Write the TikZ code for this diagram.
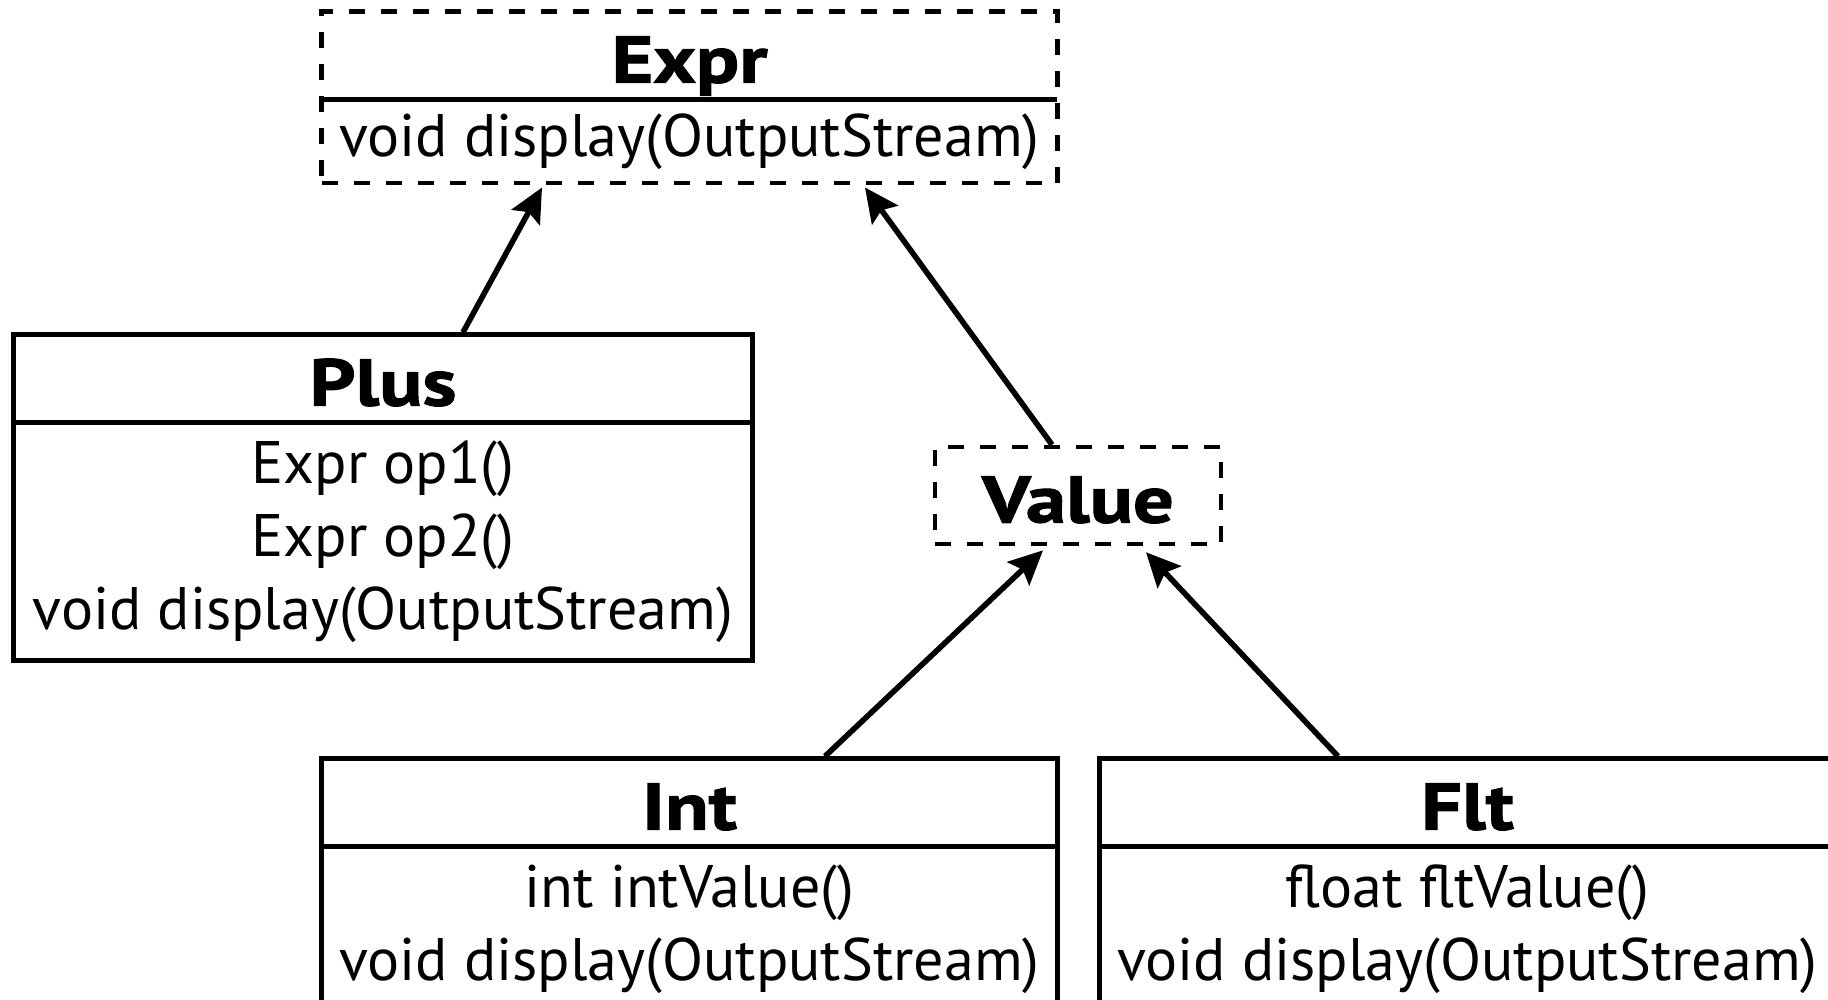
\documentclass[tikz,border=0pt]{standalone}
\usepackage{fontspec}
\setmainfont{PT Sans}
\newfontfamily\headfont{PT Sans}[FakeStretch=1.22,FakeBold=1.6]
\usetikzlibrary{arrows.meta,backgrounds,fit,positioning}
\tikzset{
  head/.style={inner sep=0pt, minimum height=43.5pt,
    text height=27pt, text depth=0pt,
    font=\fontsize{33}{36.5}\headfont\bfseries},
  body/.style={inner sep=0pt, align=center,
    font=\fontsize{30}{36.5}\selectfont},
  classbox/.style={draw, line width=2.3pt, inner sep=0pt},
  abstractbox/.style={classbox, dash pattern=on 8pt off 8pt},
  divider/.style={line width=2.3pt},
  inherit/.style={-{Stealth[length=17pt,width=16pt,inset=3pt]},
    line width=2.8pt}
}

\begin{document}
\begin{tikzpicture}[x=0.5pt,y=-0.5pt]
\useasboundingbox (0,0) rectangle (1828,1000);
\clip (0,0) rectangle (1828,1000);

% abstract base class
\node[head, minimum width=367.5pt] (exprHead) at (689.5,55.5) {Expr};
\node[body, minimum width=367.5pt, minimum height=41.5pt, below=0pt of exprHead]
  (exprBody) {void display(OutputStream)};
\node[abstractbox, fit=(exprHead)(exprBody)] (expr) {};
\draw[divider] (exprHead.south west) -- (exprHead.south east);

% binary node
\node[head, minimum width=369pt] (plusHead) at (383,378.5) {Plus};
\node[body, minimum width=369pt, minimum height=118.5pt, below=0pt of plusHead]
  (plusBody) {Expr op1()\\Expr op2()\\void display(OutputStream)};
\node[classbox, fit=(plusHead)(plusBody)] (plus) {};
\draw[divider] (plusHead.south west) -- (plusHead.south east);

% abstract leaf
\node[abstractbox, head, minimum width=143pt, minimum height=48.5pt] (value)
  at (1078,495.5) {Value};

% concrete leaves (cut off by the page edge)
\node[head, minimum width=367.5pt] (intHead) at (689.5,802.5) {Int};
\node[body, minimum width=367.5pt, minimum height=82pt, below=0pt of intHead]
  (intBody) {int intValue()\\void display(OutputStream)};
\node[classbox, fit=(intHead)(intBody)] (int) {};
\draw[divider] (intHead.south west) -- (intHead.south east);

\node[head, minimum width=367.5pt] (fltHead) at (1467.5,802.5) {Flt};
\node[body, minimum width=367.5pt, minimum height=82pt, below=0pt of fltHead]
  (fltBody) {float fltValue()\\void display(OutputStream)};
\node[classbox, fit=(fltHead)(fltBody)] (flt) {};
\draw[divider] (fltHead.south west) -- (fltHead.south east);

% inheritance arrows
\draw[inherit] ([xshift=40pt]plus.north) -- ([xshift=-73.75pt,yshift=-1pt]expr.south);
\draw[inherit] ([xshift=-13pt]value.north) -- ([xshift=87.75pt,yshift=-1pt]expr.south);
\draw[inherit] ([xshift=67.75pt]int.north) -- ([xshift=-17.5pt,yshift=-2pt]value.south);
\draw[inherit] ([xshift=-64.75pt]flt.north) -- ([xshift=34pt,yshift=-3pt]value.south);

\end{tikzpicture}
\end{document}
